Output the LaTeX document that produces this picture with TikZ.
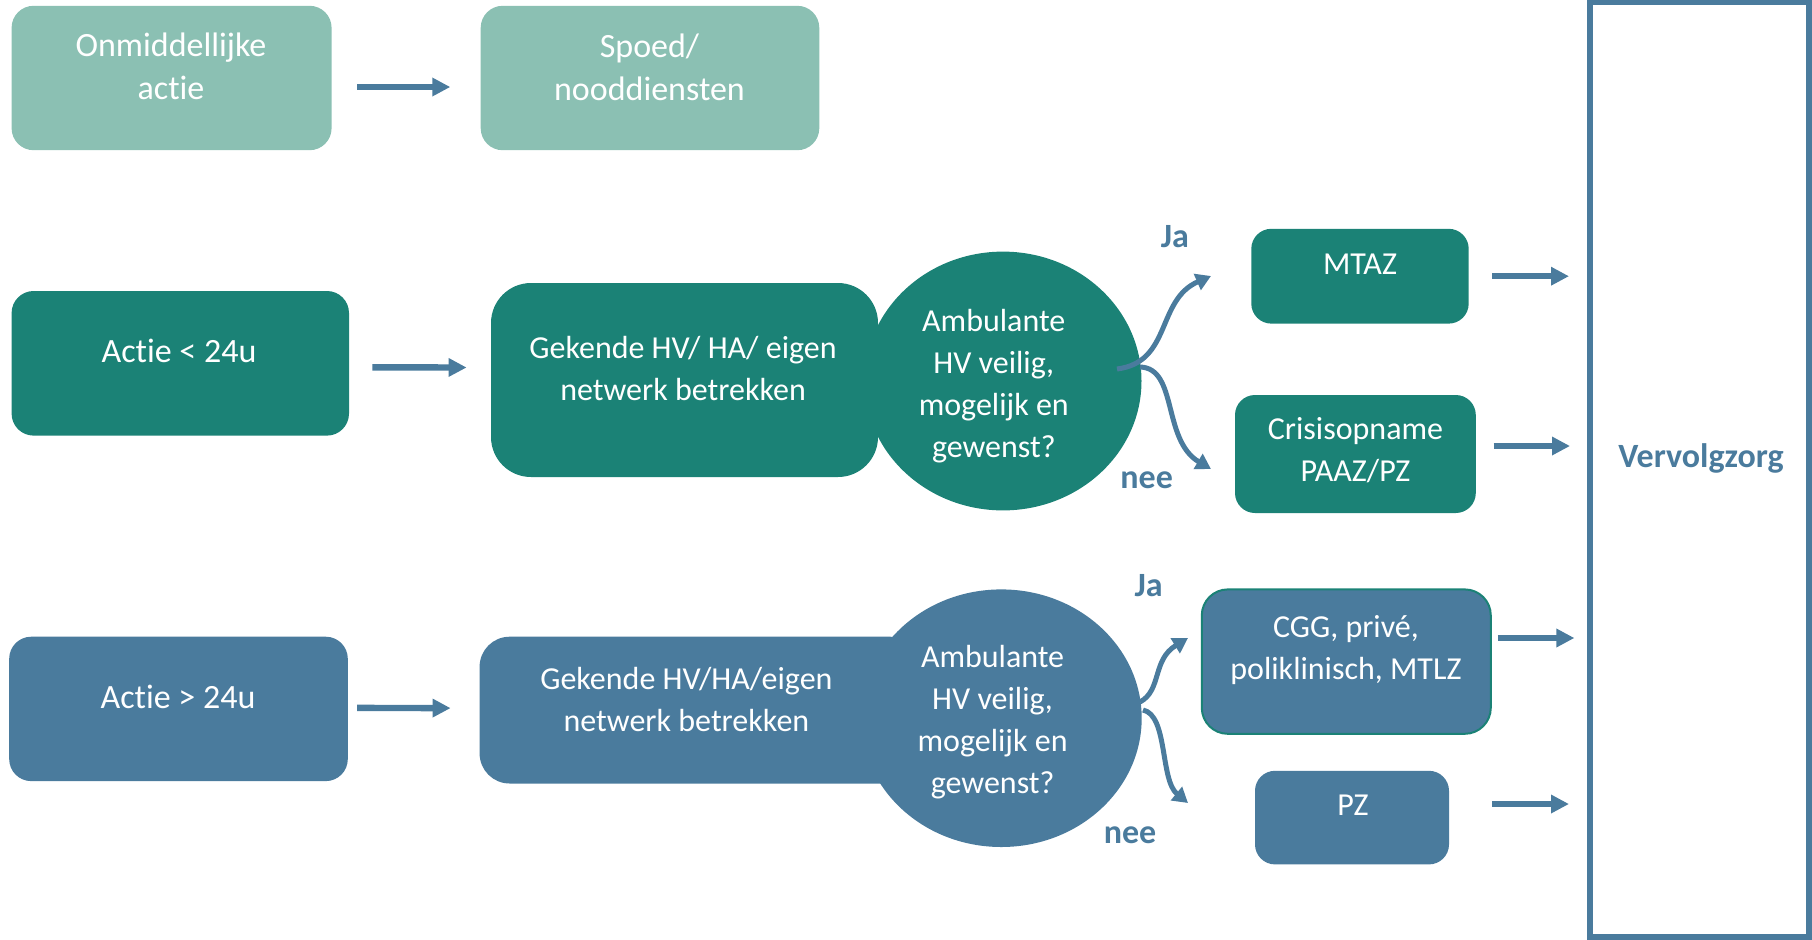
\documentclass[tikz,border=0pt]{standalone}
\usepackage{fontspec}
\setmainfont{Carlito}[Ligatures=NoCommon]
\usetikzlibrary{arrows.meta,shapes.geometric}
\definecolor{lteal}{HTML}{8BC0B3}
\definecolor{dteal}{HTML}{1B8276}
\definecolor{bblue}{HTML}{4A7B9D}
\begin{document}
\begin{tikzpicture}[x=0.5pt,y=-0.5pt,
  box/.style={rectangle, rounded corners=11pt, inner sep=0pt, draw=none},
  oval/.style={ellipse, inner sep=0pt, draw=none},
  txt/.style={text=white, align=center, font=\fontsize{17}{21.4}\selectfont, inner sep=0pt},
  ntxt/.style={text=white, align=center, font=\fontsize{16}{21}\selectfont, inner sep=0pt},
  lab/.style={text=bblue, font=\fontsize{17}{20}\selectfont\bfseries, inner sep=0pt},
  arr/.style={draw=bblue, line width=3.2pt, -{Triangle[length=9pt,width=8.8pt]}},
  carr/.style={draw=bblue, line width=2.5pt, -{Triangle[length=7.5pt,width=8.5pt]}},
]
\useasboundingbox (0,0) rectangle (1812,939);
% row 1
\node[box, fill=lteal, minimum width=160pt, minimum height=72.2pt] (A) at (171.6,78) {};
\node[box, fill=lteal, minimum width=169.3pt, minimum height=72.2pt] (B) at (650,78) {};
\node[txt] (tA) at (171,66.4) {Onmiddellijke\\actie};
\node[txt] (tB) at (649.5,67) {Spoed/\\nooddiensten};
% row 2
\node[box, fill=dteal, minimum width=168.7pt, minimum height=72.3pt] (C) at (180.3,363.3) {};
\node[box, fill=dteal, rounded corners=20pt, minimum width=193.5pt, minimum height=97pt] (D) at (684.5,380) {};
\node[oval, fill=dteal, minimum width=138.5pt, minimum height=129.4pt] (E) at (1003,381) {};
\node[txt] (tC) at (179,351.3) {Actie < 24u};
\node[ntxt] (tD) at (683,368) {Gekende HV/ HA/ eigen\\netwerk betrekken};
\node[ntxt] (tE) at (993.8,386) {Ambulante\\HV veilig,\\mogelijk en\\gewenst?};
\node[box, fill=dteal, rounded corners=10pt, minimum width=108.7pt, minimum height=47.4pt] (M) at (1360,276.2) {};
\node[ntxt] (tM) at (1360,264.6) {MTAZ};
\node[box, fill=dteal, rounded corners=10pt, minimum width=120.4pt, minimum height=59pt] (K) at (1355.4,454) {};
\node[ntxt] (tK) at (1355.5,450.5) {Crisisopname\\PAAZ/PZ};
% row 3
\node[box, fill=bblue, minimum width=169.3pt, minimum height=72.2pt] (F) at (178.5,708.9) {};
\node[box, fill=bblue, rounded corners=15pt, minimum width=220.2pt, minimum height=73.4pt] (G) at (699.8,710.1) {};
\node[oval, fill=bblue, minimum width=140.4pt, minimum height=128.8pt] (H) at (1001.3,718.2) {};
\node[txt] (tF) at (178,696.8) {Actie > 24u};
\node[ntxt] (tG) at (686.4,699) {Gekende HV/HA/eigen\\netwerk betrekken};
\node[ntxt] (tH) at (992.6,722) {Ambulante\\HV veilig,\\mogelijk en\\gewenst?};
\node[box, fill=bblue, draw=dteal, line width=1pt, rounded corners=13pt, minimum width=144.5pt, minimum height=72.2pt] (P) at (1346.3,661.6) {};
\node[ntxt] (tP) at (1346,650.5) {CGG, privé,\\poliklinisch, MTLZ};
\node[box, fill=bblue, rounded corners=10pt, minimum width=97pt, minimum height=46.8pt] (Z) at (1352,817.6) {};
\node[ntxt] (tZ) at (1353,805.5) {PZ};
% vervolgzorg
\node[rectangle, draw=bblue, line width=3pt, inner sep=0pt, minimum width=109.5pt, minimum height=467.5pt] (V) at (1699.5,469.5) {};
\node[lab] (tV) at (1701,458.8) {Vervolgzorg};
% labels
\node[lab] (ja1) at (1175,236.7) {Ja};
\node[lab] (nee1) at (1146.7,480) {nee};
\node[lab] (ja2) at (1148.6,586) {Ja};
\node[lab] (nee2) at (1130,835.5) {nee};
% straight arrows
\draw[arr] ([shift={(25,9)}]A.east) -- ([shift={(-30,9)}]B.west);
\draw[arr] ([shift={(23,4)}]C.east) -- ([shift={(-24,-12.5)}]D.west);
\draw[arr] ([shift={(9,-1)}]F.east) -- ([shift={(-28.6,-2)}]G.west);
\draw[arr] ([xshift=11.5pt]M.east) -- ([xshift=-9pt]M.east -| V.west);
\draw[arr] ([shift={(17.3,-8)}]K.east) -- ([shift={(-17,-8)}]K.east -| V.west);
\draw[arr] ([shift={(6,-23.6)}]P.east) -- ([shift={(-12.6,-23.6)}]P.east -| V.west);
\draw[arr] ([shift={(43,-13.6)}]Z.east) -- ([shift={(-18,-13.6)}]Z.east -| V.west);
% split arrows
\coordinate (s1) at (1117,369);
\coordinate (e1) at (1211,276);
\coordinate (s2) at (1140,367);
\coordinate (e2) at (1211,469);
\coordinate (s3) at (1140,702);
\coordinate (e3) at (1188,638);
\coordinate (s4) at (1143,710);
\coordinate (e4) at (1188,803);
\draw[carr] (s1) .. controls (1172,362) and (1156,300) .. (e1);
\draw[carr] (s2) .. controls (1178,368) and (1162,440) .. (e2);
\draw[carr] (s3) .. controls (1162,690) and (1152,660) .. (e3);
\draw[carr] (s4) .. controls (1168,715) and (1160,780) .. (e4);
\end{tikzpicture}
\end{document}
